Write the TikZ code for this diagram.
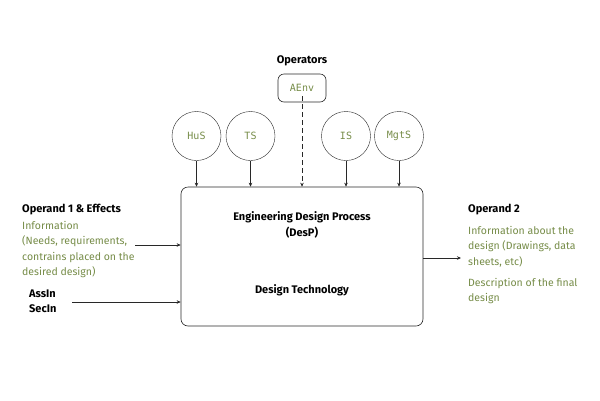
\documentclass[tikz,border=0pt]{standalone}
\usepackage{fontspec}
\setmainfont{Fira Sans}
\setmonofont{DejaVu Sans Mono}
\usetikzlibrary{arrows.meta}
\definecolor{olive}{RGB}{118,140,72}
\definecolor{lineg}{RGB}{40,40,40}
\begin{document}
\begin{tikzpicture}[x=1pt,y=-1pt,
  title/.style={font=\fontsize{11}{13}\selectfont\bfseries, text=black, inner sep=0pt},
  info/.style={font=\fontsize{10.5}{15.5}\selectfont, text=olive, inner sep=0pt, align=left},
  circ/.style={draw=lineg, circle, minimum size=49pt, inner sep=0pt, font=\ttfamily\fontsize{10}{12}\selectfont, text=olive},
  arr/.style={draw=lineg, line width=0.6pt, -{Stealth[length=4pt,width=3.5pt]}}]
\useasboundingbox (0,0) rectangle (600,400);
\node[draw=lineg, rounded corners=7pt, minimum width=242pt, minimum height=139pt, line width=0.6pt] (box) at (302,256.5) {};
\node[title] (edp) at (302,217) {Engineering Design Process};
\node[title] (desp) at (302,233) {(DesP)};
\node[title] (dt) at (302,290) {Design Technology};
\node[title] (ops) at (302,61) {Operators};
\node[draw=lineg, rounded corners=6pt, minimum width=48pt, minimum height=28pt, font=\ttfamily\fontsize{10}{12}\selectfont, text=olive, line width=0.6pt] (aenv) at (302,88) {AEnv};
\node[circ] (hus) at (196.5,136) {HuS};
\node[circ] (ts) at (250.5,136) {TS};
\node[circ] (is) at (346,136) {IS};
\node[circ] (mgts) at (399,136) {MgtS};
\foreach \n in {hus,ts,is,mgts}{
  \draw[arr] (\n.south) -- (\n.south |- box.north);
}
\draw[arr, dashed, dash pattern=on 5pt off 3pt] ([yshift=6pt]aenv.south) -- (aenv.south |- box.north);
% left
\node[title, anchor=west] (op1) at (22,210) {Operand 1 \& Effects};
\node[info, anchor=north west] (inf1) at (22,221) {Information\\(Needs, requirements,\\contrains placed on the\\desired design)};
\coordinate (a1) at (135,245);
\draw[arr] (a1) -- (a1 -| box.west);
\node[title, anchor=west] (ass) at (29,294) {AssIn};
\node[title, anchor=west] (sec) at (29,309) {SecIn};
\coordinate (a2) at (72,302);
\draw[arr] (a2) -- (a2 -| box.west);
% right
\node[title, anchor=west] (op2) at (468,210) {Operand 2};
\node[info, anchor=north west] (inf2) at (468,226) {Information about the\\design (Drawings, data\\sheets, etc)};
\node[info, anchor=north west] (desc) at (468,278) {Description of the final\\design};
\coordinate (a3) at (461,258);
\draw[arr] (a3 -| box.east) -- (a3);
\end{tikzpicture}
\end{document}
